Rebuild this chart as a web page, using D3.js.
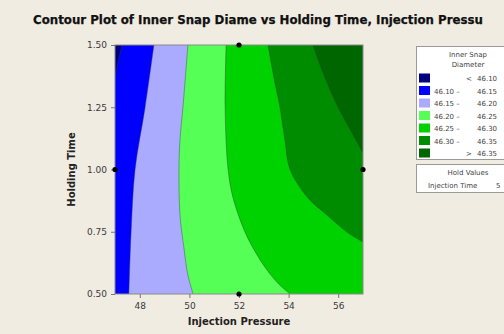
<!DOCTYPE html>
<html>
<head>
<meta charset="utf-8">
<script src="https://cdn.jsdelivr.net/npm/d3@7"></script>
<style>
  body { margin: 0; background: #f0ece2; }
  svg { display: block; }
  text { font-family: Tahoma, "DejaVu Sans", sans-serif; }
</style>
</head>
<body>
<div id="chart"></div>
<script>
// ---- data ----
var xTicks = [48, 50, 52, 54, 56];
var yTicks = [0.50, 0.75, 1.00, 1.25, 1.50];
var levelLabels = ["< 46.10", "46.10 – 46.15", "46.15 – 46.20", "46.20 – 46.25",
                   "46.25 – 46.30", "46.30 – 46.35", "> 46.35"];
var levelColors = ["#00007f", "#0000ff", "#aaaaff", "#55ff55", "#00d200", "#008c00", "#006600"];

// contour boundaries [injection pressure, holding time], from top edge to the far edge
var b4610 = [[47.28, 1.5], [47.12, 1.43], [47.0, 1.367]];
var b4615 = [[48.57, 1.5], [48.21, 1.247], [47.81, 1.0], [47.65, 0.749], [47.56, 0.5]];
var b4620 = [[49.94, 1.5], [49.82, 1.347], [49.74, 1.251], [49.62, 1.118], [49.58, 1.0],
             [49.62, 0.817], [49.78, 0.685], [49.94, 0.576], [50.15, 0.5]];
var b4625 = [[51.48, 1.5], [51.44, 1.251], [51.56, 1.0], [51.76, 0.886], [52.24, 0.749],
             [52.65, 0.67], [53.1, 0.6], [53.6, 0.54], [54.06, 0.5]];
var b4630 = [[53.17, 1.5], [53.45, 1.347], [53.65, 1.251], [53.85, 1.118], [54.06, 1.0],
             [54.78, 0.886], [55.55, 0.817], [56.35, 0.749], [57.0, 0.709]];
var b4635 = [[54.98, 1.5], [55.39, 1.388], [55.99, 1.251], [56.56, 1.147], [57.0, 1.066]];
var boundaries = [b4610, b4615, b4620, b4625, b4630, b4635];

// design points
var dpX = [52, 52, 47, 57];
var dpY = [1.5, 0.5, 1.0, 1.0];

var xDomain = [47, 57],
    yDomain = [0.5, 1.5];

// ---- layout ----
var W = 504, H = 334;
var plot = {left: 115, top: 45, width: 248, height: 249};

var svg = d3.select("#chart").append("svg")
    .attr("width", W)
    .attr("height", H);

svg.append("rect").attr("width", W).attr("height", H).attr("fill", "#f0ece2");

var x = d3.scaleLinear().domain(xDomain).range([plot.left, plot.left + plot.width]);
var y = d3.scaleLinear().domain(yDomain).range([plot.top + plot.height, plot.top]);

// title
svg.append("text")
    .attr("x", 258).attr("y", 24)
    .attr("text-anchor", "middle")
    .attr("font-size", "11.5px")
    .attr("font-weight", "bold")
    .attr("fill", "#111")
    .attr("stroke", "#111")
    .attr("stroke-width", 0.25)
    .attr("textLength", 450)
    .attr("lengthAdjust", "spacingAndGlyphs")
    .text("Contour Plot of Inner Snap Diame vs Holding Time, Injection Pressu");

svg.append("clipPath").attr("id", "plotclip")
  .append("rect")
    .attr("x", plot.left).attr("y", plot.top)
    .attr("width", plot.width).attr("height", plot.height);

var g = svg.append("g").attr("clip-path", "url(#plotclip)");

// lowest band fills the whole area
g.append("rect")
    .attr("x", plot.left).attr("y", plot.top)
    .attr("width", plot.width).attr("height", plot.height)
    .attr("fill", levelColors[0]);

// position along the plot border, clockwise from top-left
function perim(p) {
    var eps = 1e-6;
    if (Math.abs(p[1] - yDomain[1]) < eps) return (p[0] - xDomain[0]) / (xDomain[1] - xDomain[0]);
    if (Math.abs(p[0] - xDomain[1]) < eps) return 1 + (yDomain[1] - p[1]) / (yDomain[1] - yDomain[0]);
    if (Math.abs(p[1] - yDomain[0]) < eps) return 2 + (xDomain[1] - p[0]) / (xDomain[1] - xDomain[0]);
    return 3 + (p[1] - yDomain[0]) / (yDomain[1] - yDomain[0]);
}
var corners = [
    {t: 1, p: [xDomain[1], yDomain[1]]},
    {t: 2, p: [xDomain[1], yDomain[0]]},
    {t: 3, p: [xDomain[0], yDomain[0]]}
];

var curve = d3.line()
    .x(function(d) { return x(d[0]); })
    .y(function(d) { return y(d[1]); })
    .curve(d3.curveCatmullRom.alpha(0.5));

boundaries.forEach(function(b, i) {
    var tS = perim(b[0]), tE = perim(b[b.length - 1]);
    var path = curve(b);
    corners.filter(function(c) { return c.t > tS && c.t < tE; })
        .sort(function(a, c) { return c.t - a.t; })
        .forEach(function(c) { path += "L" + x(c.p[0]) + "," + y(c.p[1]); });
    path += "Z";
    g.append("path")
        .attr("d", path)
        .attr("fill", levelColors[i + 1]);
});

// contour lines
boundaries.forEach(function(b) {
    g.append("path")
        .attr("d", curve(b))
        .attr("fill", "none")
        .attr("stroke", "#3a3a3a")
        .attr("stroke-opacity", 0.5)
        .attr("stroke-width", 0.8);
});

// frame
svg.append("rect")
    .attr("x", plot.left).attr("y", plot.top)
    .attr("width", plot.width).attr("height", plot.height)
    .attr("fill", "none")
    .attr("stroke", "#8a8a8a")
    .attr("stroke-width", 1);

// axes
var xAxis = svg.append("g")
    .attr("transform", "translate(0," + (plot.top + plot.height) + ")")
    .call(d3.axisBottom(x).tickValues(xTicks).tickSize(4).tickSizeOuter(0).tickFormat(d3.format("d")));
var yAxis = svg.append("g")
    .attr("transform", "translate(" + plot.left + ",0)")
    .call(d3.axisLeft(y).tickValues(yTicks).tickSize(4).tickSizeOuter(0).tickFormat(d3.format(".2f")));

[xAxis, yAxis].forEach(function(a) {
    a.select(".domain").remove();
    a.selectAll(".tick line").attr("stroke", "#777");
    a.selectAll(".tick text")
        .attr("font-size", "9px")
        .attr("fill", "#3a3a3a")
        .attr("font-family", "Tahoma, 'DejaVu Sans', sans-serif");
});
xAxis.selectAll(".tick text").attr("dy", "0.9em");
yAxis.selectAll(".tick text").attr("dx", "-1px");

// design points
svg.append("g").selectAll("circle")
    .data(dpX.map(function(d, i) { return [d, dpY[i]]; }))
    .enter().append("circle")
    .attr("cx", function(d) { return x(d[0]); })
    .attr("cy", function(d) { return y(d[1]); })
    .attr("r", 2.6)
    .attr("fill", "#000");

// axis titles
svg.append("text")
    .attr("x", plot.left + plot.width / 2).attr("y", 325)
    .attr("text-anchor", "middle")
    .attr("font-size", "10px")
    .attr("font-weight", "bold")
    .attr("fill", "#222")
    .text("Injection Pressure");

svg.append("text")
    .attr("transform", "translate(75," + (plot.top + plot.height / 2) + ") rotate(-90)")
    .attr("text-anchor", "middle")
    .attr("font-size", "10px")
    .attr("font-weight", "bold")
    .attr("fill", "#222")
    .text("Holding Time");

// legend
var lg = svg.append("g");
lg.append("rect")
    .attr("x", 416.5).attr("y", 46.5)
    .attr("width", 100).attr("height", 113)
    .attr("fill", "#fff")
    .attr("stroke", "#9a9a9a");
lg.append("text").attr("x", 468).attr("y", 57).attr("text-anchor", "middle")
    .attr("font-size", "7px").attr("fill", "#444").text("Inner Snap");
lg.append("text").attr("x", 468).attr("y", 67).attr("text-anchor", "middle")
    .attr("font-size", "7px").attr("fill", "#444").text("Diameter");

var rows = lg.selectAll("g.row")
    .data(levelLabels)
    .enter().append("g")
    .attr("class", "row")
    .attr("transform", function(d, i) { return "translate(0," + (73.5 + i * 12.5) + ")"; });
rows.append("rect")
    .attr("x", 419).attr("y", 0)
    .attr("width", 11).attr("height", 9)
    .attr("fill", function(d, i) { return levelColors[i]; });
rows.each(function(d) {
    var r = d3.select(this);
    var parts = d.split(" ");
    var txt = function(xp, s, anchor) {
        r.append("text").attr("x", xp).attr("y", 7.5)
            .attr("text-anchor", anchor)
            .attr("font-size", "7px").attr("fill", "#444").text(s);
    };
    if (parts.length === 3) {
        txt(434, parts[0], "start");
        txt(458, parts[1], "middle");
        txt(477, parts[2], "start");
    } else {
        txt(469, parts[0], "middle");
        txt(477, parts[1], "start");
    }
});

lg.append("rect")
    .attr("x", 416.5).attr("y", 164.5)
    .attr("width", 100).attr("height", 28)
    .attr("fill", "#fff")
    .attr("stroke", "#9a9a9a");
lg.append("text").attr("x", 468).attr("y", 175).attr("text-anchor", "middle")
    .attr("font-size", "7px").attr("fill", "#444").text("Hold Values");
lg.append("text").attr("x", 428).attr("y", 188)
    .attr("font-size", "7px").attr("fill", "#444").text("Injection Time");
lg.append("text").attr("x", 496).attr("y", 188)
    .attr("font-size", "7px").attr("fill", "#444").text("5");
</script>
</body>
</html>
